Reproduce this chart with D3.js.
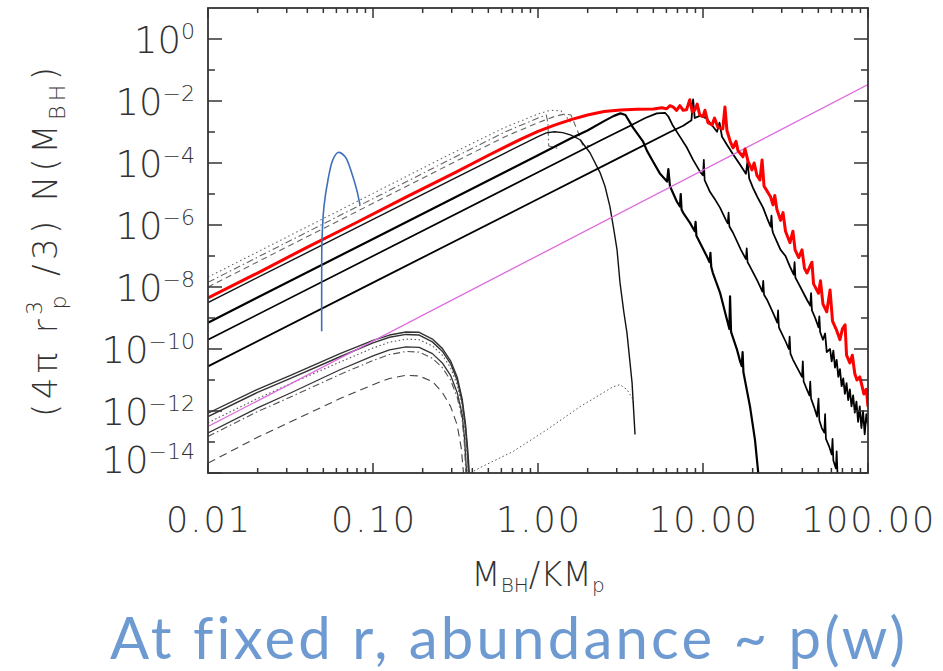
<!DOCTYPE html>
<html>
<head>
<meta charset="utf-8">
<script src="https://cdn.jsdelivr.net/npm/d3@7"></script>
<style>
  body { margin: 0; background: #fff; }
  .ax { font-family: 'DejaVu Sans', sans-serif; font-weight: 200; fill: #333; }
  .cap { font-variant-ligatures: none; }
</style>
</head>
<body>
<svg id="chart" width="943" height="671"></svg>
<script>
// all curves are [log10(M/KMp), log10(N)]
const upperDotted  = [[-2,-7.68],[-1,-4.98],[-0.5,-3.63],[-0.2,-2.85],[0,-2.42],[0.06,-2.32],[0.1,-2.3],[0.14,-2.32],[0.17,-2.5],[0.2,-2.7]];
const upperDashDot = [[-2,-7.85],[-1,-5.15],[-0.5,-3.8],[-0.2,-3.0],[0,-2.55],[0.05,-2.45],[0.06,-2.7],[0.065,-3.45],[0.1,-3.5],[0.13,-3.55]];
const upperDashed  = [[-2,-8.0],[-1,-5.3],[-0.5,-3.95],[-0.2,-3.15],[0,-2.7],[0.1,-2.5],[0.16,-2.42],[0.2,-2.45],[0.25,-3.1],[0.27,-3.42],[0.315,-3.45]];

const lowerSolid1  = [[-2,-12.07],[-1.7,-11.3],[-1.5,-10.85],[-1.2,-10.15],[-1.0,-9.72],[-0.9,-9.55],[-0.8,-9.45],[-0.72,-9.46],[-0.64,-9.68],[-0.58,-9.98],[-0.53,-10.38],[-0.49,-10.9],[-0.46,-11.6],[-0.44,-12.4],[-0.425,-13.3],[-0.415,-14.1]];
const lowerSolid2  = [[-2,-12.18],[-1.7,-11.4],[-1.5,-10.95],[-1.2,-10.25],[-1.0,-9.8],[-0.9,-9.62],[-0.8,-9.53],[-0.72,-9.55],[-0.64,-9.77],[-0.58,-10.07],[-0.53,-10.47],[-0.49,-11.0],[-0.46,-11.7],[-0.44,-12.5],[-0.428,-13.3],[-0.42,-14.1]];
const lowerDotted  = [[-2,-12.38],[-1.7,-11.6],[-1.5,-11.12],[-1.2,-10.42],[-1.0,-9.97],[-0.9,-9.78],[-0.8,-9.68],[-0.72,-9.7],[-0.64,-9.9],[-0.58,-10.2],[-0.53,-10.6],[-0.49,-11.15],[-0.46,-11.85],[-0.442,-12.6],[-0.43,-13.4],[-0.422,-14.1]];
const lowerSolid3  = [[-2,-12.71],[-1.7,-11.9],[-1.5,-11.42],[-1.2,-10.67],[-1.0,-10.22],[-0.9,-10.03],[-0.8,-9.93],[-0.72,-9.95],[-0.64,-10.15],[-0.58,-10.45],[-0.53,-10.85],[-0.49,-11.4],[-0.46,-12.1],[-0.445,-12.9],[-0.432,-14.1]];
const lowerDashDot = [[-2,-12.82],[-1.7,-12.02],[-1.5,-11.55],[-1.2,-10.82],[-1.0,-10.37],[-0.9,-10.18],[-0.8,-10.08],[-0.72,-10.1],[-0.64,-10.3],[-0.58,-10.6],[-0.53,-11.0],[-0.49,-11.55],[-0.46,-12.25],[-0.447,-13.0],[-0.436,-14.1]];
const lowerDashed  = [[-2,-13.68],[-1.7,-12.85],[-1.5,-12.35],[-1.2,-11.6],[-1.0,-11.15],[-0.9,-10.95],[-0.8,-10.85],[-0.72,-10.87],[-0.64,-11.05],[-0.58,-11.4],[-0.53,-11.85],[-0.49,-12.45],[-0.465,-13.2],[-0.45,-14.1]];
const tailDotted   = [[-0.41,-14.0],[-0.352,-13.83],[-0.152,-13.31],[0.055,-12.6],[0.255,-11.86],[0.455,-11.22],[0.497,-11.15],[0.539,-11.31],[0.57,-11.57],[0.582,-11.8]];

const blackThin = [[-2,-8.5],[-1,-5.82],[-0.5,-4.48],[-0.2,-3.68],[0,-3.15],[0.05,-3.03],[0.1,-2.99],[0.15,-3.02],[0.2,-3.1],[0.255,-3.25],[0.315,-3.67],[0.376,-4.31],[0.406,-4.75],[0.436,-5.41],[0.461,-6.2],[0.479,-6.8],[0.497,-7.86],[0.52,-8.8],[0.539,-9.47],[0.57,-11.08],[0.588,-12.76]];
const blackA = [[-2,-9.15],[-1,-6.45],[0,-3.75],[0.2,-3.2],[0.3,-2.95],[0.4,-2.65],[0.46,-2.48],[0.5,-2.4],[0.53,-2.45],[0.576,-2.86],[0.636,-3.3],[0.66,-3.6],[0.697,-3.95],[0.74,-4.35],[0.782,-4.6],[0.79,-4.2],[0.8,-4.75],[0.842,-5.25],[0.86,-5.4],[0.865,-5.0],[0.87,-5.5],[0.879,-5.6],[0.921,-5.93],[0.95,-6.2],[0.955,-5.9],[0.96,-6.35],[0.97,-6.45],[1.024,-7.02],[1.04,-7.2],[1.045,-6.9],[1.05,-7.35],[1.06,-7.55],[1.103,-8.18],[1.145,-9.05],[1.16,-9.35],[1.164,-8.3],[1.17,-9.45],[1.206,-10.02],[1.225,-10.4],[1.235,-10.55],[1.24,-10.1],[1.245,-10.75],[1.285,-11.86],[1.315,-12.93],[1.333,-13.9],[1.338,-14.2]];
const blackB = [[-2,-9.7],[-1,-7.0],[0,-4.3],[0.4,-3.22],[0.55,-2.82],[0.65,-2.55],[0.72,-2.4],[0.77,-2.38],[0.79,-2.5],[0.818,-2.8],[0.86,-3.15],[0.903,-3.51],[0.94,-3.9],[0.982,-4.28],[1.0,-4.4],[1.005,-3.9],[1.01,-4.55],[1.042,-4.93],[1.07,-5.15],[1.103,-5.44],[1.14,-5.85],[1.15,-5.95],[1.155,-5.6],[1.16,-6.05],[1.182,-6.25],[1.23,-6.8],[1.26,-7.1],[1.265,-6.75],[1.27,-7.2],[1.285,-7.34],[1.33,-7.8],[1.36,-8.15],[1.365,-7.8],[1.37,-8.25],[1.388,-8.41],[1.43,-8.9],[1.45,-9.15],[1.455,-8.75],[1.46,-9.3],[1.467,-9.38],[1.5,-9.75],[1.52,-10.0],[1.525,-9.6],[1.53,-10.15],[1.545,-10.34],[1.58,-10.7],[1.6,-10.9],[1.605,-10.4],[1.61,-11.05],[1.63,-11.31],[1.645,-11.5],[1.65,-11.05],[1.655,-11.6],[1.675,-11.9],[1.691,-12.18],[1.7,-11.6],[1.705,-12.3],[1.72,-12.55],[1.735,-12.7],[1.74,-12.1],[1.745,-12.9],[1.765,-13.15],[1.78,-13.4],[1.785,-12.9],[1.79,-13.6],[1.805,-13.85],[1.81,-13.3],[1.815,-14.0],[1.825,-14.3]];
const blackC = [[-2,-10.56],[-1,-7.86],[0,-5.16],[0.5,-3.81],[0.8,-3.0],[0.88,-2.8],[0.93,-2.62],[0.94,-1.95],[0.95,-2.55],[0.98,-2.48],[1.02,-2.55],[1.05,-2.75],[1.085,-2.99],[1.1,-2.7],[1.115,-3.15],[1.145,-3.41],[1.18,-3.7],[1.224,-4.05],[1.26,-4.35],[1.27,-3.95],[1.28,-4.5],[1.303,-4.8],[1.33,-5.1],[1.364,-5.44],[1.39,-5.8],[1.41,-6.05],[1.415,-5.7],[1.42,-6.15],[1.424,-6.25],[1.47,-6.8],[1.5,-7.0],[1.527,-7.34],[1.55,-7.6],[1.555,-7.2],[1.56,-7.7],[1.58,-7.9],[1.63,-8.41],[1.65,-8.6],[1.655,-8.2],[1.66,-8.75],[1.68,-9.0],[1.7,-9.3],[1.705,-8.95],[1.71,-9.45],[1.727,-9.7],[1.74,-9.5],[1.75,-10.1],[1.77,-10.0],[1.78,-10.4],[1.79,-10.05],[1.8,-10.6],[1.81,-10.35],[1.82,-10.9],[1.83,-10.65],[1.84,-11.2],[1.85,-10.95],[1.86,-11.45],[1.87,-11.1],[1.88,-11.65],[1.89,-11.3],[1.9,-11.85],[1.91,-11.5],[1.92,-12.05],[1.93,-11.7],[1.94,-12.35],[1.95,-11.85],[1.96,-12.55],[1.97,-12.0],[1.98,-12.75],[1.99,-12.1],[2.0,-12.45]];
const magentaLine = [[-2,-12.5],[2,-1.47]];
const redCurve = [[-2,-8.35],[-1.7,-7.55],[-1.4,-6.72],[-1.1,-5.92],[-0.8,-5.1],[-0.5,-4.3],[-0.3,-3.75],[-0.1,-3.22],[0,-2.98],[0.1,-2.78],[0.2,-2.6],[0.3,-2.45],[0.4,-2.34],[0.5,-2.29],[0.6,-2.27],[0.7,-2.26],[0.75,-2.22],[0.78,-2.25],[0.8,-2.15],[0.82,-2.2],[0.84,-2.3],[0.86,-2.15],[0.88,-2.3],[0.9,-2.28],[0.92,-1.96],[0.935,-2.35],[0.95,-2.3],[0.965,-2.1],[0.98,-2.45],[1.0,-2.5],[1.012,-2.3],[1.03,-2.7],[1.055,-2.77],[1.07,-2.55],[1.09,-2.85],[1.12,-2.9],[1.133,-2.19],[1.145,-2.95],[1.165,-3.3],[1.182,-3.51],[1.2,-3.3],[1.212,-3.6],[1.242,-3.8],[1.255,-3.55],[1.273,-3.95],[1.297,-4.22],[1.31,-4.0],[1.327,-4.4],[1.345,-4.55],[1.358,-3.9],[1.37,-4.75],[1.388,-4.9],[1.41,-5.1],[1.424,-5.35],[1.435,-5.05],[1.448,-5.5],[1.47,-5.85],[1.485,-5.6],[1.5,-6.2],[1.527,-6.57],[1.545,-6.2],[1.558,-6.8],[1.58,-7.05],[1.6,-6.8],[1.615,-7.4],[1.63,-7.55],[1.66,-7.2],[1.67,-7.9],[1.7,-8.2],[1.712,-7.8],[1.727,-8.55],[1.75,-8.8],[1.77,-8.1],[1.785,-9.1],[1.81,-9.4],[1.83,-9.7],[1.845,-9.35],[1.861,-9.22],[1.87,-10.2],[1.89,-10.45],[1.905,-10.2],[1.92,-10.8],[1.933,-11.0],[1.95,-10.9],[1.964,-11.2],[1.975,-11.45],[1.99,-11.3],[2.0,-11.86]];
// hand-drawn blue annotation stroke
const blueSketch = [[-1.311,-9.43],[-1.311,-7.8],[-1.309,-6.47],[-1.297,-5.4],[-1.273,-4.55],[-1.243,-3.89],[-1.212,-3.66],[-1.17,-3.79],[-1.129,-4.32],[-1.099,-4.86],[-1.079,-5.35]];

const xTickValues = [0.01, 0.1, 1, 10, 100];
const xTickLabels = ['0.01', '0.10', '1.00', '10.00', '100.00'];
const yTickExps = [0, -2, -4, -6, -8, -10, -12, -14];
const caption = 'At fixed r, abundance ~ p(w)';

const pLeft = 208, pRight = 868, pTop = 8, pBottom = 473;

const svg = d3.select('#chart');
const x = d3.scaleLog().domain([0.01, 100]).range([pLeft, pRight]);
const y = d3.scaleLog().domain([1e-14, 10]).range([pBottom, pTop]);
const line = d3.line().x(d => x(10 ** d[0])).y(d => y(10 ** d[1]));

svg.append('clipPath').attr('id', 'plotclip')
  .append('rect').attr('x', pLeft).attr('y', pTop).attr('width', pRight - pLeft).attr('height', pBottom - pTop);

const series = [
  {data: upperDotted, color: '#666', width: 1.1, dash: '1.5,3'},
  {data: upperDashDot, color: '#666', width: 1.1, dash: '7,3,1.5,3'},
  {data: upperDashed, color: '#666', width: 1.1, dash: '6,4'},
  {data: lowerSolid1, color: '#333', width: 1.4},
  {data: lowerSolid2, color: '#333', width: 1.4},
  {data: lowerDotted, color: '#555', width: 1.1, dash: '1.5,2.5'},
  {data: lowerSolid3, color: '#333', width: 1.3},
  {data: lowerDashDot, color: '#555', width: 1.1, dash: '7,3,1.5,3'},
  {data: lowerDashed, color: '#444', width: 1.1, dash: '8,5'},
  {data: tailDotted, color: '#555', width: 1, dash: '1.5,2.5'},
  {data: blackThin, color: '#111', width: 1.4},
  {data: blackA, color: '#000', width: 2.2},
  {data: blackB, color: '#000', width: 1.7},
  {data: blackC, color: '#000', width: 1.8},
  {data: magentaLine, color: '#dd6bdd', width: 1.3},
  {data: redCurve, color: '#ff0000', width: 3}
];

const plot = svg.append('g').attr('clip-path', 'url(#plotclip)');
plot.selectAll('path.series').data(series).enter().append('path')
  .attr('class', 'series')
  .attr('fill', 'none')
  .attr('stroke', d => d.color)
  .attr('stroke-width', d => d.width)
  .attr('stroke-dasharray', d => d.dash || null)
  .attr('stroke-linejoin', 'round')
  .attr('d', d => line(d.data));

// frame
svg.append('rect').attr('x', pLeft).attr('y', pTop).attr('width', pRight - pLeft).attr('height', pBottom - pTop)
  .attr('fill', 'none').attr('stroke', '#333').attr('stroke-width', 1.8);

// x ticks, inward on bottom and top
const isDecade = v => Math.abs(Math.log10(v) - Math.round(Math.log10(v))) < 1e-9;
const ticks = svg.append('g').attr('stroke', '#333').attr('stroke-width', 1.5);
x.ticks().forEach(v => {
  const len = isDecade(v) ? 10 : 5;
  ticks.append('line').attr('x1', x(v)).attr('x2', x(v)).attr('y1', pBottom).attr('y2', pBottom - len);
  ticks.append('line').attr('x1', x(v)).attr('x2', x(v)).attr('y1', pTop).attr('y2', pTop + len);
});
// y ticks: labelled even decades long, odd decades short
d3.range(-14, 1).forEach(e => {
  const len = e % 2 === 0 ? 14 : 7;
  const yy = y(10 ** e);
  ticks.append('line').attr('x1', pLeft).attr('x2', pLeft + len).attr('y1', yy).attr('y2', yy);
  ticks.append('line').attr('x1', pRight).attr('x2', pRight - len).attr('y1', yy).attr('y2', yy);
});

// x tick labels
svg.selectAll('text.xl').data(xTickValues).enter().append('text')
  .attr('class', 'ax xl')
  .attr('x', d => x(d) + 1)
  .attr('y', 532)
  .attr('text-anchor', 'middle')
  .attr('font-size', 35)
  .attr('letter-spacing', 2)
  .text((d, i) => xTickLabels[i]);

// y tick labels 10^e
yTickExps.forEach(e => {
  const t = svg.append('text').attr('class', 'ax')
    .attr('x', 195).attr('y', Math.min(y(10 ** e) + 14, 473))
    .attr('text-anchor', 'end');
  t.append('tspan').attr('font-size', 37).text('10');
  t.append('tspan').attr('font-size', 22).attr('dy', -14).text(e === 0 ? '0' : '\u2212' + (-e));
});

// x title
const xt = svg.append('text').attr('class', 'ax')
  .attr('x', 538).attr('y', 586).attr('text-anchor', 'middle').attr('font-size', 34);
xt.append('tspan').text('M');
xt.append('tspan').attr('font-size', 20).attr('dy', 6).text('BH');
xt.append('tspan').attr('dy', -6).text('/KM');
xt.append('tspan').attr('font-size', 20).attr('dy', 6).text('p');

// y title
const yt = svg.append('text').attr('class', 'ax')
  .attr('transform', 'translate(57,242) rotate(-90)')
  .attr('text-anchor', 'middle').attr('font-size', 34)
  .attr('textLength', 350).attr('lengthAdjust', 'spacing');
yt.append('tspan').text('(4\u03c0 r');
yt.append('tspan').attr('font-size', 22).attr('dy', -15).text('3');
yt.append('tspan').attr('font-size', 22).attr('dx', -13).attr('dy', 24).text('p');
yt.append('tspan').attr('dy', -9).text(' /3)  N(M');
yt.append('tspan').attr('font-size', 22).attr('dy', 8).text('BH');
yt.append('tspan').attr('dy', -8).text(')');

// blue annotation
svg.append('path')
  .attr('fill', 'none').attr('stroke', '#3f6fb8').attr('stroke-width', 1.6)
  .attr('d', d3.line().curve(d3.curveCatmullRom).x(d => x(10 ** d[0])).y(d => y(10 ** d[1]))(blueSketch));

svg.append('text')
  .attr('class', 'cap')
  .attr('x', 110).attr('y', 659)
  .attr('font-family', 'Lato, "Open Sans", sans-serif')
  .attr('font-size', 58).attr('fill', '#6e9ad2')
  .attr('textLength', 795).attr('lengthAdjust', 'spacing')
  .text(caption);
</script>
</body>
</html>
